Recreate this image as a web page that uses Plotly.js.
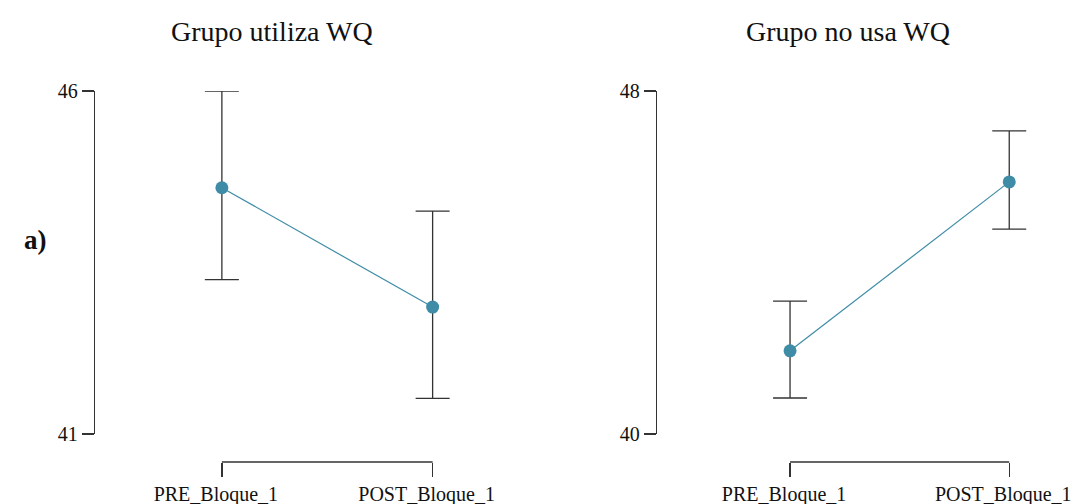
<!DOCTYPE html>
<html><head><meta charset="utf-8">
<script src="https://cdn.plot.ly/plotly-3.0.1.min.js"></script>
<style>body{margin:0;padding:0;background:#fff}#chart{width:1082px;height:504px}</style>
</head><body><div id="chart"></div>
<script>
const categories = ["PRE_Bloque_1", "POST_Bloque_1"];
const titleA = "Grupo utiliza WQ";
const titleB = "Grupo no usa WQ";
const meanA = [44.59, 42.85];
const upperA = [46.0, 44.25];
const lowerA = [43.25, 41.52];
const meanB = [41.94, 45.88];
const upperB = [43.10, 47.07];
const lowerB = [40.84, 44.78];
const ticksA = [41, 46];
const ticksB = [40, 48];

const W = 1082, H = 504;
const FONT = "Liberation Serif, serif";
const lineCol = "#3f8ca6";
const errCol = "#333333";

function trace(means, up, lo, xa, ya) {
  return {
    type: "scatter", mode: "lines+markers",
    x: categories, y: means, xaxis: xa, yaxis: ya,
    line: {color: lineCol, width: 1.2},
    marker: {color: lineCol, size: 13},
    error_y: {type: "data", symmetric: false,
      array: up.map((u, i) => u - means[i]),
      arrayminus: lo.map((l, i) => means[i] - l),
      color: errCol, thickness: 1.3, width: 17},
    cliponaxis: false, showlegend: false, hoverinfo: "skip"
  };
}

const paperH = 462; // margin bottom 42
const yDom = [(paperH - 434) / paperH, (paperH - 91) / paperH];

const axCommonX = {
  type: "category", anchor: "free", position: 0,
  showline: false, showgrid: false, zeroline: false,
  ticks: "outside", ticklen: 14, tickwidth: 1.3, tickcolor: errCol,
  ticklabelshift: -6,
  tickfont: {family: FONT, size: 20, color: "#111"}
};
const axCommonY = {
  showline: true, linecolor: errCol, linewidth: 1.3,
  showgrid: false, zeroline: false,
  ticks: "outside", ticklen: 12, tickwidth: 1.3, tickcolor: errCol,
  tickfont: {family: FONT, size: 20, color: "#111"},
  domain: yDom
};

const layout = {
  width: W, height: H,
  margin: {l: 0, r: 0, t: 0, b: 42},
  paper_bgcolor: "#fff", plot_bgcolor: "#fff",
  font: {family: FONT, color: "#111"},
  xaxis: Object.assign({}, axCommonX, {domain: [95 / W, 538 / W], range: [-0.602, 1.5]}),
  yaxis: Object.assign({}, axCommonY, {anchor: "x", range: [ticksA[0], ticksA[1]], tickvals: ticksA}),
  xaxis2: Object.assign({}, axCommonX, {domain: [657 / W, 1075 / W], range: [-0.607, 1.3]}),
  yaxis2: Object.assign({}, axCommonY, {anchor: "x2", range: [ticksB[0], ticksB[1]], tickvals: ticksB}),
  shapes: [
    {type: "line", xref: "x", yref: "paper", x0: categories[0], x1: categories[categories.length - 1], y0: 0, y1: 0,
     line: {color: errCol, width: 1.3}},
    {type: "line", xref: "x2", yref: "paper", x0: categories[0], x1: categories[categories.length - 1], y0: 0, y1: 0,
     line: {color: errCol, width: 1.3}}
  ],
  annotations: [
    {text: titleA, xref: "paper", yref: "paper", x: 272 / W, y: (paperH - 31) / paperH,
     showarrow: false, font: {family: FONT, size: 28, color: "#111"}, xanchor: "center", yanchor: "middle"},
    {text: titleB, xref: "paper", yref: "paper", x: 848 / W, y: (paperH - 31) / paperH,
     showarrow: false, font: {family: FONT, size: 28, color: "#111"}, xanchor: "center", yanchor: "middle"},
    {text: "<b>a)</b>", xref: "paper", yref: "paper", x: 35 / W, y: (paperH - 240) / paperH,
     showarrow: false, font: {family: FONT, size: 27, color: "#111"}, xanchor: "center", yanchor: "middle"}
  ]
};

Plotly.newPlot("chart", [trace(meanA, upperA, lowerA, "x", "y"), trace(meanB, upperB, lowerB, "x2", "y2")], layout, {staticPlot: true});
</script></body></html>
